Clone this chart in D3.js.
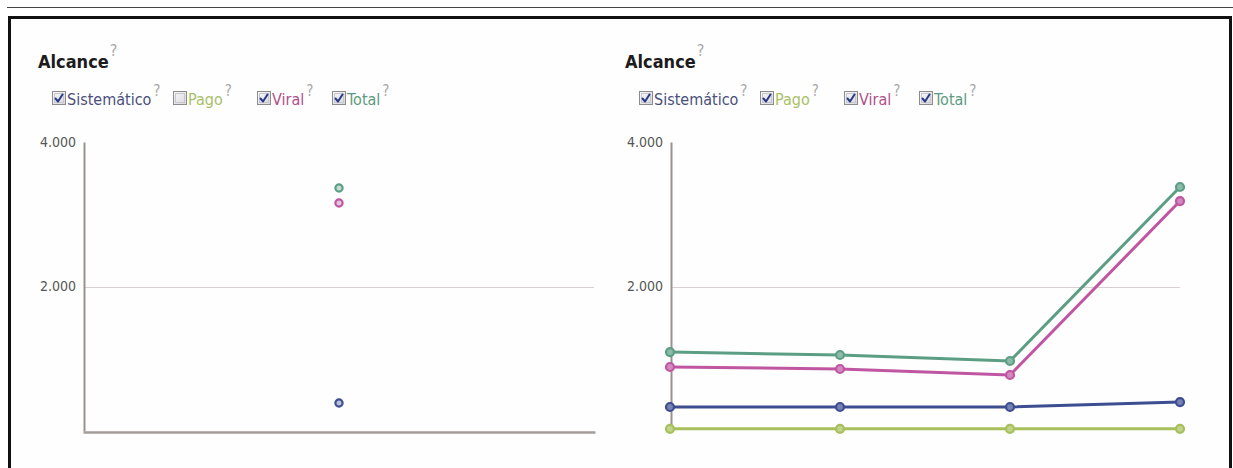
<!DOCTYPE html>
<html>
<head>
<meta charset="utf-8">
<script src="https://cdn.jsdelivr.net/npm/d3@7/dist/d3.min.js"></script>
<style>
  html, body { margin: 0; padding: 0; background: #ffffff; }
  svg { display: block; }
  text { font-family: "DejaVu Sans Condensed", "DejaVu Sans", sans-serif; }
</style>
</head>
<body>
<svg id="chart" width="1233" height="468"></svg>
<script>
// ---- data ----
const seriesNames = ["Sistemático", "Pago", "Viral", "Total"];
const seriesColors = ["#3d4d92", "#a7c05c", "#c056a2", "#5c9e84"];
const legendTextColors = ["#4a4f7c", "#a9c068", "#b0508a", "#5d9a80"];
const yTicks = [2000, 4000];

// single-period panel (Pago unchecked)
const leftPeriods = ["p4"];
const leftChecked = [true, false, true, true];
const leftSistematico = [388];
const leftViral = [3156];
const leftTotal = [3363];

// four-period panel
const rightPeriods = ["p1", "p2", "p3", "p4"];
const rightChecked = [true, true, true, true];
const rightSistematico = [332, 332, 332, 401];
const rightPago = [30, 30, 30, 30];
const rightViral = [886, 858, 775, 3183];
const rightTotal = [1093, 1052, 969, 3377];

const fmt = d3.formatLocale({ decimal: ",", thousands: ".", grouping: [3], currency: ["", ""] }).format(",d");

const svg = d3.select("#chart");

// page frame
svg.append("line").attr("x1", 7).attr("x2", 1233).attr("y1", 7.5).attr("y2", 7.5)
  .attr("stroke", "#444").attr("stroke-width", 1);
svg.append("rect").attr("x", 9.5).attr("y", 17.5).attr("width", 1221).attr("height", 470)
  .attr("fill", "#fefefe").attr("stroke", "#111").attr("stroke-width", 3);

const defs = svg.append("defs");
const grad = defs.append("linearGradient").attr("id", "boxfill").attr("x1", 0).attr("y1", 0).attr("x2", 1).attr("y2", 1);
grad.append("stop").attr("offset", "0%").attr("stop-color", "#fbfbfb");
grad.append("stop").attr("offset", "100%").attr("stop-color", "#d6d6de");

function drawPanel(ox, cfg) {
  const g = svg.append("g").attr("transform", `translate(${ox},0)`);

  // title with help mark
  const title = g.append("text").attr("x", 38).attr("y", 68)
    .attr("font-size", 18).attr("font-weight", "bold").attr("fill", "#1c1c1c").text("Alcance");
  const tw = title.node().getComputedTextLength();
  g.append("text").attr("x", 38 + tw + 1).attr("y", 56)
    .attr("font-size", 16).attr("fill", "#a8a8a8").text("?");

  // legend with checkboxes
  const boxX = [52, 173, 257, 332];
  seriesNames.forEach((name, i) => {
    const bx = boxX[i];
    const box = g.append("g").attr("transform", `translate(${bx},91)`);
    box.append("rect").attr("x", 0.5).attr("y", 0.5).attr("width", 13).attr("height", 13)
      .attr("fill", "url(#boxfill)").attr("stroke", "#8c8c8c");
    box.append("rect").attr("x", 2.5).attr("y", 2.5).attr("width", 9).attr("height", 9)
      .attr("fill", "none").attr("stroke", "#c8c8cc");
    if (cfg.checked[i]) {
      box.append("path").attr("d", "M3.5,7.5 L6,10.5 L10.5,3.5")
        .attr("fill", "none").attr("stroke", "#2a3a88").attr("stroke-width", 2)
        .attr("stroke-linecap", "round").attr("stroke-linejoin", "round");
    }
    const t = g.append("text").attr("x", bx + 15).attr("y", 105)
      .attr("font-size", 16).attr("fill", legendTextColors[i]).text(name);
    const w = t.node().getComputedTextLength();
    g.append("text").attr("x", bx + 15 + w + 2).attr("y", 96)
      .attr("font-size", 15).attr("fill", "#a8a8a8").text("?");
  });

  // scales
  const y = d3.scaleLinear().domain([0, 4000]).range([431, 142]);
  const x = d3.scalePoint().domain(cfg.periods).range(cfg.xRange).padding(cfg.padding);

  // grid line at 2.000
  g.append("g").selectAll("line").data(yTicks.filter(d => d < 4000)).join("line")
    .attr("x1", cfg.gridRange[0]).attr("x2", cfg.gridRange[1])
    .attr("y1", d => Math.round(y(d)) + 0.5).attr("y2", d => Math.round(y(d)) + 0.5)
    .attr("stroke", "#d8d0d0").attr("stroke-width", 1.2);

  // y axis
  const yAxis = g.append("g").attr("transform", `translate(${cfg.axisX},0)`)
    .call(d3.axisLeft(y).tickValues(yTicks).tickSize(0).tickPadding(8).tickFormat(fmt));
  yAxis.select(".domain").attr("stroke", "#98928e").attr("stroke-width", 2);
  yAxis.selectAll("text").attr("font-size", 14).attr("fill", "#555")
    .style("font-family", "\"DejaVu Sans Condensed\", \"DejaVu Sans\", sans-serif");

  // x axis (no ticks)
  if (cfg.showXAxis) {
    const xAxis = g.append("g").attr("transform", `translate(0,${y(0) + 1})`)
      .call(d3.axisBottom(d3.scaleLinear().domain([0, 1]).range(cfg.xAxisRange)).tickValues([]).tickSizeOuter(0));
    xAxis.select(".domain").attr("stroke", "#a39d98").attr("stroke-width", 2.5);
  }

  // series
  const line = d3.line().x((d, i) => x(cfg.periods[i])).y(d => y(d));
  cfg.series.forEach((vals, i) => {
    if (!vals || !cfg.checked[i]) return;
    const c = seriesColors[i];
    if (vals.length > 1) {
      g.append("path").datum(vals).attr("d", line)
        .attr("fill", "none").attr("stroke", c).attr("stroke-width", 3)
        .attr("stroke-linejoin", "round");
    }
    g.append("g").selectAll("circle").data(vals).join("circle")
      .attr("cx", (d, j) => x(cfg.periods[j])).attr("cy", d => y(d))
      .attr("r", cfg.dotR)
      .attr("fill", d3.interpolateRgb(c, "#ffffff")(cfg.dotLighten))
      .attr("stroke", c).attr("stroke-width", 2.2);
  });
}

drawPanel(0, {
  periods: leftPeriods, checked: leftChecked,
  series: [leftSistematico, null, leftViral, leftTotal],
  xRange: [83, 595], padding: 0.5, axisX: 84, gridRange: [85, 594],
  showXAxis: true, xAxisRange: [83, 595], dotR: 3.6, dotLighten: 0.65
});

drawPanel(587, {
  periods: rightPeriods, checked: rightChecked,
  series: [rightSistematico, rightPago, rightViral, rightTotal],
  xRange: [83, 593], padding: 0, axisX: 84, gridRange: [85, 593],
  showXAxis: false, dotR: 4, dotLighten: 0.3
});
</script>
</body>
</html>
